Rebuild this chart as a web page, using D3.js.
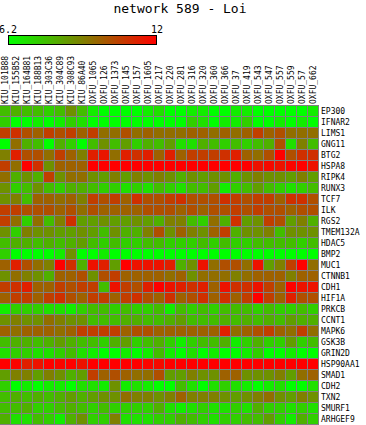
<!DOCTYPE html>
<html>
<head>
<meta charset="utf-8">
<script src="https://cdn.jsdelivr.net/npm/d3@7"></script>
<style>
  html, body { margin: 0; padding: 0; background: #fff; }
  svg { display: block; }
  text { font-family: "DejaVu Sans Mono", "Liberation Mono", monospace; fill: #000; }
</style>
</head>
<body>
<div id="chart"></div>
<script>
const title = "network 589 - Loi";
const colorMin = 6.2;
const colorMax = 12;
const colorTicks = ["6.2", "12"];

const samples = ["KIU_101B88","KIU_155B52","KIU_164B81","KIU_188B13","KIU_303C36","KIU_304C89","KIU_308C93","KIU_86A40",
  "OXFU_1065","OXFU_126","OXFU_1373","OXFU_145","OXFU_157","OXFU_1605","OXFU_217","OXFU_220","OXFU_281","OXFU_316",
  "OXFU_320","OXFU_360","OXFU_366","OXFU_37","OXFU_419","OXFU_543","OXFU_547","OXFU_557","OXFU_559","OXFU_57","OXFU_662"];

const genes = ["EP300","IFNAR2","LIMS1","GNG11","BTG2","HSPA8","RIPK4","RUNX3","TCF7","ILK","RGS2","TMEM132A","HDAC5",
  "BMP2","MUC1","CTNNB1","CDH1","HIF1A","PRKCB","CCNT1","MAPK6","GSK3B","GRIN2D","HSP90AA1","SMAD1","CDH2","TXN2",
  "SMURF1","ARHGEF9"];

// expression values: one row per gene, one entry per sample
const expression = [
  [7.7,8.0,7.7,7.7,7.3,7.7,8.7,7.7,6.6,6.2,6.2,6.2,6.2,6.6,6.9,6.2,6.2,6.6,6.6,6.2,6.2,6.6,6.6,6.2,6.2,6.2,6.2,6.2,6.6],
  [7.3,6.2,6.2,6.6,6.2,6.6,7.3,6.9,6.2,6.2,6.2,6.2,6.2,6.2,6.2,6.2,6.2,7.3,6.9,6.2,6.6,6.6,7.3,6.2,6.2,6.6,6.2,6.6,6.2],
  [10.6,10.9,10.2,9.8,10.6,10.2,10.6,9.8,10.6,9.5,9.5,10.2,9.5,9.8,9.5,9.5,9.5,9.8,9.8,9.5,9.8,9.5,9.8,10.6,9.8,10.2,9.5,9.5,9.5],
  [6.2,9.5,8.0,7.7,6.2,8.0,7.3,6.2,7.7,8.7,7.7,8.4,7.3,8.0,7.7,8.4,6.9,6.9,8.0,7.7,7.3,7.7,7.3,7.7,8.0,10.2,6.9,9.1,7.7],
  [9.1,11.3,10.2,10.2,9.5,10.6,9.8,9.1,11.3,11.5,9.5,11.3,10.9,11.3,9.8,11.3,9.8,10.6,10.6,10.6,10.9,11.3,9.8,9.5,10.2,12.0,10.2,10.9,10.9],
  [10.6,9.5,12.0,10.9,8.7,9.8,9.8,9.8,12.0,12.0,12.0,12.0,12.0,12.0,12.0,12.0,12.0,12.0,12.0,12.0,12.0,12.0,12.0,11.6,11.8,11.6,11.9,12.0,11.6],
  [9.5,8.0,8.7,8.0,10.6,8.7,9.5,9.5,8.7,8.4,9.1,8.4,9.1,8.7,9.1,8.7,8.0,8.7,8.4,8.7,8.7,8.0,8.7,9.1,8.7,8.7,8.4,9.1,8.4],
  [8.7,7.3,7.7,8.7,7.7,7.3,8.0,8.0,7.7,7.3,7.3,6.9,7.3,6.9,7.7,7.3,6.9,7.7,7.7,8.4,6.6,7.3,7.7,8.4,7.7,7.3,6.9,7.3,7.7],
  [8.7,9.1,7.7,9.8,9.8,9.5,9.8,9.1,10.6,10.2,10.6,9.8,10.9,10.2,10.2,10.6,10.9,10.2,10.2,10.2,10.9,10.6,10.2,10.6,10.6,9.8,10.9,10.9,10.2],
  [10.6,10.6,10.2,10.2,10.2,9.8,10.2,9.5,10.2,9.8,9.8,9.8,9.8,10.2,10.2,10.2,9.8,10.2,9.8,10.2,10.2,10.6,10.2,10.6,10.2,10.2,9.8,10.2,10.2],
  [10.6,9.5,7.3,9.5,7.7,9.1,10.9,8.4,8.4,8.7,8.4,8.4,8.7,8.4,8.0,9.1,9.1,7.7,7.3,9.5,8.0,10.9,8.4,8.7,10.6,10.2,8.4,9.1,8.0],
  [8.7,7.3,9.1,8.7,8.7,8.4,8.4,8.7,8.4,7.7,8.7,8.0,8.0,9.1,10.2,8.7,9.8,9.1,8.7,9.8,10.6,8.0,8.7,8.7,9.1,7.7,8.7,8.7,8.7],
  [7.7,8.0,8.0,7.7,8.0,7.7,8.0,8.4,7.7,7.3,7.7,7.3,7.3,7.7,7.7,7.3,7.3,7.3,7.7,7.3,7.7,7.3,7.3,7.7,7.7,7.7,7.7,7.3,7.7],
  [7.3,6.2,6.2,6.2,6.2,6.6,8.7,6.2,6.2,6.6,6.2,6.2,6.2,6.2,6.2,6.2,6.2,6.2,6.2,6.2,6.2,6.2,6.2,6.2,6.2,6.2,6.2,6.2,6.2],
  [9.8,11.3,10.2,9.5,9.1,12.0,10.9,8.0,11.6,11.3,8.4,12.0,11.6,11.6,11.6,11.3,8.0,8.7,11.6,9.5,10.2,10.2,9.5,11.6,8.4,9.1,10.6,12.0,9.5],
  [8.7,9.5,9.1,8.7,8.0,9.8,9.8,10.2,8.7,10.2,10.6,9.8,9.8,9.8,9.8,9.5,9.8,8.7,9.5,9.5,9.5,9.1,9.5,9.8,9.8,9.8,9.1,9.8,9.8],
  [10.6,10.9,11.3,9.8,9.8,10.6,10.2,10.6,10.6,7.7,11.6,10.6,10.2,11.3,12.0,11.6,11.3,10.9,11.3,9.8,11.6,10.9,10.9,11.6,10.6,9.8,12.0,11.6,11.6],
  [9.8,10.6,10.6,9.8,10.6,10.9,10.2,9.8,10.6,10.6,9.8,10.6,10.9,10.2,9.8,10.9,9.8,10.2,10.9,9.8,10.9,9.8,10.6,12.0,10.6,9.8,11.3,10.2,10.2],
  [6.6,7.3,7.3,7.3,6.9,6.9,6.6,7.3,7.7,7.7,7.3,7.7,7.3,7.3,7.7,6.6,7.7,7.3,7.7,7.3,7.7,7.7,7.7,7.3,7.7,7.3,7.3,7.7,7.3],
  [8.7,9.1,8.7,8.7,9.5,9.1,8.7,8.7,7.7,7.7,7.7,8.0,8.0,7.7,7.7,8.0,8.4,7.7,7.7,7.7,8.0,7.7,8.0,7.7,8.0,7.7,8.4,8.0,8.0],
  [9.8,9.5,9.8,9.8,9.8,9.5,9.8,10.6,10.6,10.6,10.6,9.8,10.2,10.2,9.8,9.8,9.8,9.8,9.8,9.8,11.3,9.5,9.8,10.2,10.6,9.8,9.5,10.6,9.5],
  [7.7,8.0,8.0,7.7,8.0,8.4,8.0,7.7,7.7,7.3,8.0,8.4,7.3,7.7,8.0,7.3,6.6,7.3,7.7,7.7,8.0,6.6,7.3,8.0,7.3,7.3,8.4,7.3,7.7],
  [6.9,7.3,7.3,6.9,6.9,7.3,7.7,6.9,6.6,6.2,6.2,6.6,6.2,6.6,7.7,6.6,6.2,6.9,6.2,6.6,6.2,6.2,6.6,7.3,6.2,6.2,6.6,6.2,6.2],
  [12.0,11.9,11.3,11.6,12.0,11.9,12.0,11.6,12.0,12.0,12.0,12.0,12.0,11.9,11.8,12.0,12.0,12.0,12.0,12.0,12.0,12.0,12.0,12.0,12.0,12.0,12.0,12.0,12.0],
  [8.4,9.1,9.1,8.4,9.1,8.7,8.0,8.4,10.6,9.8,10.2,9.8,9.5,9.5,10.2,8.4,8.4,9.1,8.7,8.7,9.8,9.8,8.7,8.7,8.7,9.1,8.4,9.5,9.8],
  [7.3,6.2,6.6,6.2,6.6,6.6,6.2,6.9,6.9,6.6,8.7,6.6,6.9,6.6,6.2,6.2,7.7,6.9,6.2,6.9,7.3,6.9,6.6,6.2,6.6,6.9,6.2,6.2,6.9],
  [7.7,8.0,7.7,8.0,7.7,8.0,8.4,8.0,8.4,8.7,8.7,9.5,9.1,9.1,8.7,9.1,9.8,9.1,9.1,9.1,8.7,8.4,8.7,9.1,9.5,8.7,8.4,9.1,8.7],
  [7.7,7.7,8.0,7.3,7.3,7.7,8.0,7.7,7.3,7.7,7.3,7.3,7.3,7.3,8.0,6.9,6.6,6.9,7.3,6.9,6.9,7.3,6.9,8.0,7.3,7.3,6.9,7.3,6.9],
  [8.0,6.9,6.9,7.7,7.3,6.6,8.0,8.7,7.3,7.3,9.1,6.9,6.9,6.9,7.3,7.3,8.0,7.7,7.3,6.9,7.3,7.3,7.7,7.7,8.4,7.3,6.6,8.0,7.3]
];

const W = 366, H = 425;
const svg = d3.select("#chart").append("svg").attr("width", W).attr("height", H);

const x = d3.scaleBand().domain(samples).range([0, 318]).paddingInner(1 / 11).paddingOuter(0);
const y = d3.scaleBand().domain(genes).range([106, 424]).paddingInner(1 / 11).paddingOuter(0);
const color = d3.scaleLinear().domain([colorMin, colorMax]).range(["#00ff00", "#ff0000"]).clamp(true);

// title
svg.append("text").attr("x", 180).attr("y", 13).attr("text-anchor", "middle")
  .style("font-size", "13px").text(title);

// colour key
const keyX = d3.scaleLinear().domain([colorMin, colorMax]).range([8, 157]);
const defs = svg.append("defs");
const grad = defs.append("linearGradient").attr("id", "keygrad").attr("x1", "0%").attr("x2", "100%");
d3.range(0, 1.0001, 0.1).forEach(t => {
  grad.append("stop").attr("offset", (t * 100) + "%").attr("stop-color", color(colorMin + t * (colorMax - colorMin)));
});
svg.append("rect").attr("x", keyX(colorMin) + 0.5).attr("y", 35.5)
  .attr("width", keyX(colorMax) - keyX(colorMin) - 1).attr("height", 9)
  .attr("fill", "url(#keygrad)").attr("stroke", "#000").attr("stroke-width", 1);
svg.selectAll("text.keytick").data(colorTicks).join("text").attr("class", "keytick")
  .attr("x", d => keyX(+d)).attr("y", 33).attr("text-anchor", "middle")
  .style("font-size", "10px").text(d => d);

// grid background
svg.append("rect").attr("x", 0).attr("y", 105).attr("width", 319).attr("height", 320).attr("fill", "#808080");

// cells
const cells = [];
genes.forEach((g, i) => samples.forEach((s, j) => cells.push({ g, s, v: expression[i][j] })));
svg.append("g").attr("shape-rendering", "crispEdges").selectAll("rect").data(cells).join("rect")
  .attr("x", d => x(d.s)).attr("y", d => y(d.g))
  .attr("width", x.bandwidth()).attr("height", y.bandwidth())
  .attr("fill", d => color(d.v));

// column labels
svg.append("g").selectAll("text").data(samples).join("text")
  .attr("transform", d => `translate(${x(d) + x.bandwidth() / 2 + 2.5},104) rotate(-90)`)
  .style("font-size", "8px").text(d => d);

// row labels
svg.append("g").selectAll("text").data(genes).join("text")
  .attr("x", 321).attr("y", d => y(d) + y.bandwidth() / 2 + 3)
  .style("font-size", "8px").text(d => d);
</script>
</body>
</html>
